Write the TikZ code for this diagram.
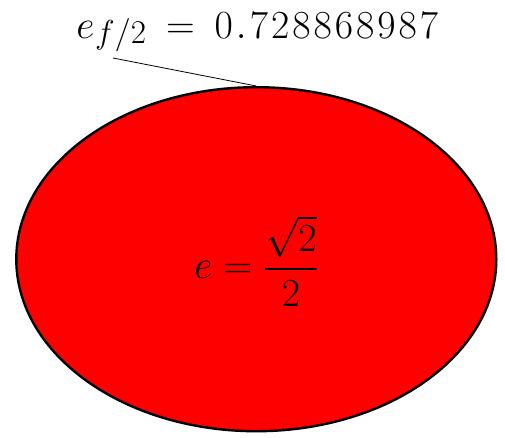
\documentclass[tikz,border=0pt]{standalone}
\usepackage{amsmath}
\usetikzlibrary{shapes.geometric}
\newcommand{\dg}{\kern1.9pt}
\begin{document}
\begin{tikzpicture}[x=1pt,y=-1pt,
  blob/.style={ellipse,draw=black,line width=2.4pt,fill=red,minimum width=480pt,minimum height=344pt,inner sep=0pt},
  mathlabel/.style={font=\Huge,inner sep=0pt,scale=1.6,transform shape}]
\useasboundingbox (0,0) rectangle (505,437);
\node[blob] (ell) at (256.3,259.2) {};
\node[mathlabel] (center) at (256.5,261) {$e=\dfrac{\sqrt{2}}{2}$};
\node[mathlabel,anchor=base west] (top) at (76,38) {$e\kern0.5pt\raisebox{-3.5pt}{$\scriptstyle f/2$}\:=\:0\dg.\dg7\dg2\dg8\dg8\dg6\dg8\dg9\dg8\dg7$};
\coordinate (lead) at (113,58);
\draw[line width=0.8pt] (lead) -- (ell.north);
\end{tikzpicture}
\end{document}
